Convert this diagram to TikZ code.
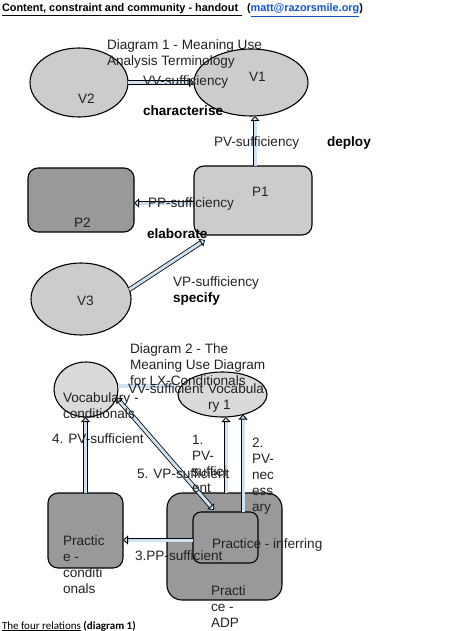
\documentclass[tikz,border=0pt]{standalone}
\usepackage{fontspec}
\setmainfont{Liberation Sans}
\newfontfamily\carlito{Carlito}
\usetikzlibrary{shapes.geometric,arrows.meta,calc}
\definecolor{lgray}{HTML}{CCCCCC}
\definecolor{dgray}{HTML}{999999}
\definecolor{vgray}{HTML}{DADADA}
\definecolor{abl}{HTML}{CFE2F3}
\definecolor{linkblue}{HTML}{1155CC}
\definecolor{txt}{HTML}{222222}
\begin{document}
\begin{tikzpicture}[x=1pt,y=-1pt,
  every node/.style={inner sep=0pt,outer sep=0pt},
  oval/.style={draw, line width=1.1pt, ellipse, fill=lgray},
  box/.style={draw, line width=1.1pt, rounded corners=10pt, fill=lgray},
  lbl/.style={anchor=base west, font=\fontsize{13.6}{16}\selectfont, text=txt, align=left},
  blbl/.style={anchor=base west, font=\fontsize{13.6}{16}\selectfont\bfseries},
  fat/.style={double=abl, double distance=3pt, line width=0.8pt,
    -{Triangle[open,fill=abl,length=5pt,width=9pt,line width=0.8pt]}},
  fatboth/.style={double=abl, double distance=3pt, line width=0.8pt,
    {Triangle[open,fill=abl,length=5pt,width=9pt,line width=0.8pt]}-{Triangle[open,fill=abl,length=5pt,width=9pt,line width=0.8pt]}},
  thinblue/.style={abl, line width=4pt, -{Triangle[length=4pt,width=8pt]}},
]
\useasboundingbox (0,0) rectangle (461,631);

% header
\node[anchor=base west, font=\fontsize{10.9}{13}\selectfont\bfseries] (hdr) at (2,12)
  {\underline{Content, constraint and community - handout\,\,}};
\node[anchor=base west, font=\fontsize{10.9}{13}\selectfont\bfseries] (mail) at (247,12)
  {(\textcolor{linkblue}{\underline{matt@razorsmile.org}})};

% ---------- Diagram 1 shapes
\node[oval, minimum width=98pt, minimum height=69pt] (v2) at (79,82.5) {};
\node[oval, minimum width=114pt, minimum height=67pt] (v1) at (251,82.5) {};
\node[box, minimum width=118pt, minimum height=69pt] (p1) at (253,200.5) {};
\node[box, fill=dgray, minimum width=106pt, minimum height=64pt] (p2) at (81,200) {};
\node[oval, minimum width=100pt, minimum height=72pt] (v3) at (81,299) {};

% Diagram 1 arrows
\draw[fat] (v2.east) -- (v1.west);
\draw[fat] ($(p1.north)+(2,0)$) -- ($(v1.south)+(4,0)$);
\draw[fat] ($(p1.west)+(0,2.5)$) -- ($(p2.east)+(0,3)$);
\draw[fat] (v3.11) -- ($(p1.south west)+(11,5)$);

% Diagram 1 texts (multi-line nodes: base = last line)
\node[lbl] (t1) at (107,66) {Diagram 1 - Meaning Use\\Analysis Terminology};
\node[lbl] (lv2) at (78,104) {V2};
\node[lbl] (lv1) at (249,82) {V1};
\node[lbl] (lvv) at (143,86) {VV-sufficiency};
\node[blbl] (lch) at (143,116) {characterise};
\node[lbl] (lpv) at (214,147) {PV-sufficiency};
\node[blbl] (ldp) at (327,147) {deploy};
\node[lbl] (lp1) at (252,196) {P1};
\node[lbl] (lp2) at (74,227) {P2};
\node[lbl] (lpp) at (148,207) {PP-sufficiency};
\node[blbl] (lel) at (147,238) {elaborate};
\node[lbl] (lvp) at (173,286) {VP-sufficiency};
\node[blbl] (lsp) at (173,302) {specify};
\node[lbl] (lv3) at (77,305) {V3};

% ---------- Diagram 2 shapes
\node[oval, fill=vgray, minimum width=64pt, minimum height=55pt] (vc) at (86,389.5) {};
\node[oval, fill=vgray, minimum width=89pt, minimum height=45pt] (vb) at (222.5,394.5) {};
\node[box, fill=dgray, minimum width=75pt, minimum height=75pt] (pc) at (85.5,530.5) {};
\node[box, fill=dgray, rounded corners=15pt, minimum width=115pt, minimum height=107pt] (pa) at (224.5,546.5) {};
\node[box, fill=dgray, rounded corners=8pt, minimum width=65pt, minimum height=51pt] (pi) at (225.5,537.5) {};

% Diagram 2 arrows
\draw[thinblue] ($(vc.east)+(0,-3.5)$) -- ($(vb.west)+(0,-8.5)$);
\draw[fat] (pc.north) -- (pc.north |- vc.south);
\draw[fatboth] (vc.-15) -- ($(pi.north)+(-11.5,-2)$);
\draw[fat] ($(pa.north)+(1.5,0)$) -- ($(vb.south)+(3.5,0)$);
\draw[fat] ($(pi.north)+(17.5,0)$) -- ($(vb.center)+(20.5,20)$);
\draw[fat] ($(pi.west)+(0,2.5)$) -- ($(pc.east)+(0,9.5)$);

% Diagram 2 texts
\node[lbl] (t2) at (130,385) {Diagram 2 - The\\Meaning Use Diagram\\for LX-Conditionals};
\node[lbl] (lvc) at (63,418) {Vocabulary -\\conditionals};
\node[lbl] (lvv2) at (128,393) {VV-sufficient};
\node[lbl] (lvb) at (208,409) {Vocabula\\ry 1};
\node[lbl] (l4) at (52,443) {4. PV-sufficient};
\node[lbl] (l1) at (192,492) {1.\\PV-\\suffici\\ent};
\node[lbl] (l2) at (252,511) {2.\\PV-\\nec\\ess\\ary};
\node[lbl] (l5) at (137,478) {5. VP-sufficient};
\node[lbl] (lpc) at (63,593) {Practic\\e -\\conditi\\onals};
\node[lbl] (lpi) at (212,548) {Practice - inferring};
\node[lbl] (l3) at (135,560) {3.PP-sufficient};
\node[lbl] (lpa) at (211,627) {Practi\\ce -\\ADP};

% footer
\node[anchor=base west, font=\carlito\fontsize{11}{13}\selectfont] (foot) at (2,629)
  {\underline{The four relations} \textbf{(diagram 1)}};
\end{tikzpicture}
\end{document}
